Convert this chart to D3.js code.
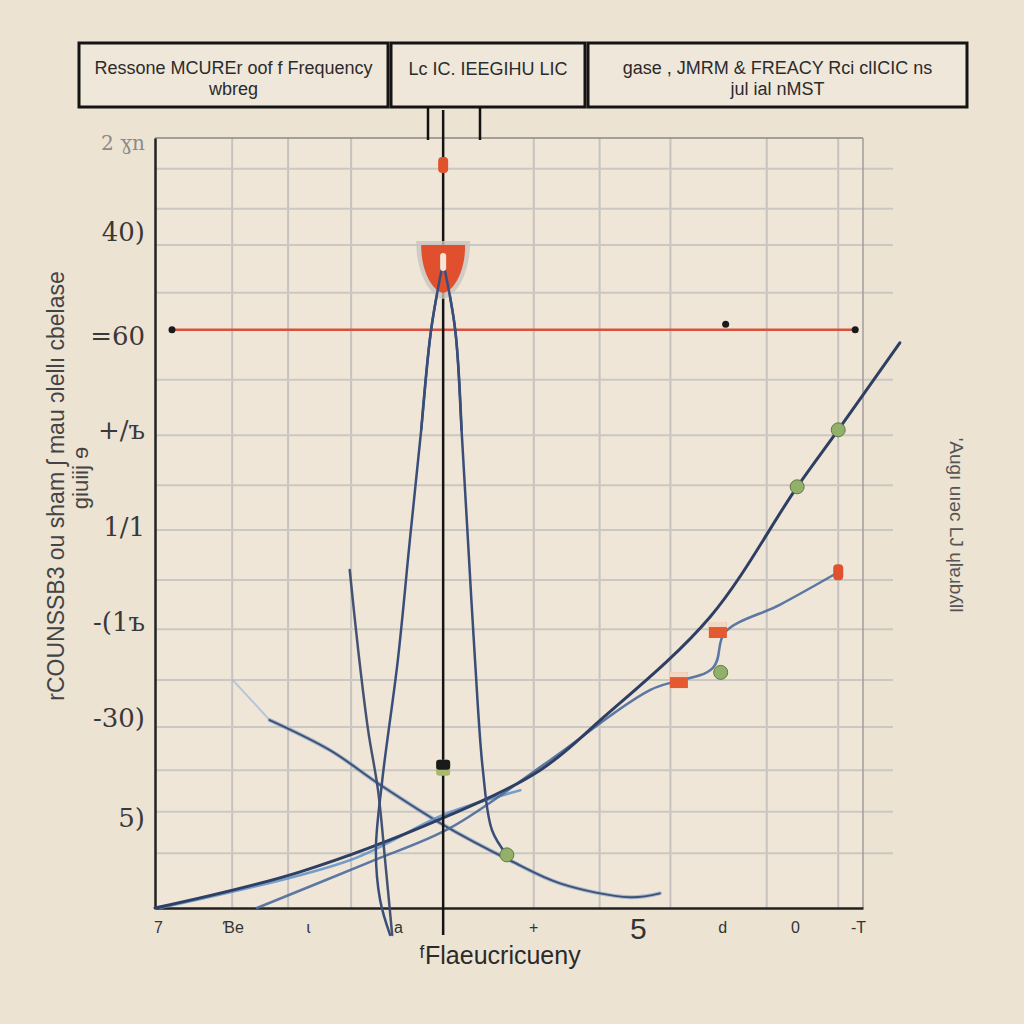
<!doctype html>
<html>
<head>
<meta charset="UTF-8">
<script src="https://cdnjs.cloudflare.com/ajax/libs/d3/7.8.5/d3.min.js"></script>
<style>
  body { margin: 0; background: #ece3d3; }
  svg { display: block; }
</style>
</head>
<body>
<svg id="chart" width="1024" height="1024"></svg>
<script>
// header boxes
var headerBoxes = [
  { x0: 79, x1: 388, lines: ["Ressone MCUREr oof f Frequency", "wbreg"] },
  { x0: 391, x1: 585, lines: ["Lc IC. IEEGIHU LIC"] },
  { x0: 588, x1: 967, lines: ["gase , JMRM & FREACY Rci clICIC ns", "jul ial nMST"] }
];

// axis labels
var yTickValues = [99.4, 87.8, 74.3, 62.1, 49.4, 37.1, 24.7, 11.7];
var yTickLabels = ["2 ɣn", "40)", "=60", "+/ъ", "1/1", "-(1ъ", "-30)", "5)"];
var xTickValues = [0.04, 1.10, 2.16, 3.43, 5.34, 6.82, 8.01, 9.04, 9.93];
var xTickLabels = ["7", "Ɓe", "ɩ", "a", "+", "5", "d", "0", "-T"];

// irregular grid
var xGrid = [1.09, 1.88, 2.77, 5.35, 6.28, 7.28, 8.64, 9.65];
var yGrid = [96.0, 90.8, 86.1, 79.9, 68.6, 61.4, 54.9, 49.1, 42.6, 36.2, 29.6, 23.5, 17.9, 12.5, 7.1];

// series
var peakLeft = [[4.07,83.9],[3.90,75.1],[3.76,62.1],[3.60,47.8],[3.43,32.2],[3.21,16.6],[3.12,7.5],[3.18,1.0],[3.32,-3.5]];
var peakLeft2 = [[2.75,43.9],[2.87,33.5],[3.01,23.1],[3.15,15.3],[3.25,6.2],[3.35,-3.5]];
var peakRight = [[4.07,83.9],[4.24,75.1],[4.33,62.1],[4.42,47.8],[4.52,32.2],[4.63,18.0],[4.76,10.1],[4.97,6.9]];
var rising = [[0,0],[2.05,4.7],[4.07,11.7],[5.44,17.9],[6.29,24.4],[7.84,37.8],[9.07,54.7],[9.65,62.1],[10.52,73.4]];
var risingLight = [[0.07,0],[2.75,6.2],[4.07,12.1],[5.16,15.3]];
var lower = [[1.44,0],[3.04,6.0],[4.17,10.4],[5.58,19.2],[6.99,28.3],[7.88,31.2],[8.05,35.8],[8.83,39.4],[9.65,43.6]];
var fallingFaint = [[1.10,29.6],[1.62,24.4]];
var falling = [[1.62,24.4],[2.47,20.5],[3.18,16.0],[4.07,10.8],[5.01,6.2],[5.72,3.2],[6.71,1.4],[7.13,1.9]];
var redLevel = 75.1, redFrom = 0.24, redTo = 9.89;
var markerLine = 4.07;

var markers = [
  { x: 4.07, y: 96.5, kind: "red" },
  { x: 4.07, y: 18.2, kind: "dark" },
  { x: 4.97, y: 6.9, kind: "green" },
  { x: 9.07, y: 54.7, kind: "green" },
  { x: 9.65, y: 62.1, kind: "green" },
  { x: 7.99, y: 30.6, kind: "green" },
  { x: 7.95, y: 36.1, kind: "orange" },
  { x: 7.40, y: 29.6, kind: "orange" },
  { x: 9.65, y: 43.6, kind: "red" },
  { x: 0.24, y: 75.1, kind: "dot" },
  { x: 9.89, y: 75.1, kind: "dot" },
  { x: 8.06, y: 75.8, kind: "dot" }
];

var svg = d3.select("#chart");
svg.append("rect").attr("width", 1024).attr("height", 1024).attr("fill", "#ece3d3");

var x = d3.scaleLinear().domain([0, 10]).range([155, 863]);
var y = d3.scaleLinear().domain([0, 100]).range([908, 138]);

// plot background
svg.append("rect")
  .attr("x", x(0)).attr("y", y(100))
  .attr("width", x(10) - x(0)).attr("height", y(0) - y(100))
  .attr("fill", "#efe6d8");

// grid
svg.append("g").selectAll("line").data(xGrid).enter().append("line")
  .attr("x1", d => x(d)).attr("x2", d => x(d))
  .attr("y1", y(100)).attr("y2", y(0))
  .attr("stroke", "#c5c2bf").attr("stroke-width", 2);
svg.append("g").selectAll("line").data(yGrid).enter().append("line")
  .attr("x1", x(0)).attr("x2", x(10) + 30)
  .attr("y1", d => y(d)).attr("y2", d => y(d))
  .attr("stroke", "#cbc7c2").attr("stroke-width", 2);

// frame
svg.append("line").attr("x1", x(0)).attr("x2", x(10)).attr("y1", y(100)).attr("y2", y(100))
  .attr("stroke", "#8a8785").attr("stroke-width", 1.5);
svg.append("line").attr("x1", x(10)).attr("x2", x(10)).attr("y1", y(100)).attr("y2", y(0))
  .attr("stroke", "#a09d9a").attr("stroke-width", 1.5);

// axes
var yAxis = d3.axisLeft(y).tickValues(yTickValues).tickFormat((d, i) => yTickLabels[i]).tickSize(0).tickPadding(10);
var gy = svg.append("g").attr("transform", "translate(" + x(0) + ",0)").call(yAxis);
gy.select(".domain").attr("stroke", "#222").attr("stroke-width", 2.5);
gy.selectAll("text")
  .style("font-family", "DejaVu Serif, serif").style("font-size", "26px")
  .attr("fill", "#3a3838");
gy.selectAll("text").filter((d, i) => i === 0).attr("fill", "#8d8a88").style("font-size", "20px");

var xAxis = d3.axisBottom(x).tickValues(xTickValues).tickFormat((d, i) => xTickLabels[i]).tickSize(0).tickPadding(14);
var gx = svg.append("g").attr("transform", "translate(0," + y(0) + ")").call(xAxis);
gx.select(".domain").attr("stroke", "#222").attr("stroke-width", 2.5);
gx.selectAll("text")
  .style("font-family", "Liberation Sans, sans-serif").style("font-size", "16px")
  .attr("fill", "#333");
gx.selectAll("text").filter((d, i) => i === 5).style("font-size", "30px").attr("dy", "0.55em");

// axis titles
svg.append("text")
  .attr("x", 500).attr("y", 964)
  .attr("text-anchor", "middle")
  .style("font-family", "Liberation Sans Narrow, Liberation Sans, sans-serif")
  .style("font-size", "25px").attr("fill", "#2a2a2a")
  .text("ᶠFlaeucricueny");

svg.append("text")
  .attr("transform", "translate(64,486)rotate(-90)")
  .attr("text-anchor", "middle")
  .style("font-family", "Liberation Sans Narrow, Liberation Sans, sans-serif")
  .style("font-size", "23px").attr("fill", "#444")
  .text("rCOUNSSB3 ou sham ʃ mau ɔlellı cbelase");
svg.append("text")
  .attr("transform", "translate(88,478)rotate(-90)")
  .attr("text-anchor", "middle")
  .style("font-family", "Liberation Sans Narrow, Liberation Sans, sans-serif")
  .style("font-size", "22px").attr("fill", "#444")
  .text("giuiij ɘ");
svg.append("text")
  .attr("transform", "translate(950,525)rotate(90)")
  .attr("text-anchor", "middle")
  .style("font-family", "Liberation Sans Narrow, Liberation Sans, sans-serif")
  .style("font-size", "19px").attr("fill", "#555")
  .text("'Augı uıəc LJ ɥlɐɹbʎll");

// header
var hg = svg.append("g");
headerBoxes.forEach(function(b) {
  hg.append("rect").attr("x", b.x0).attr("y", 43).attr("width", b.x1 - b.x0).attr("height", 64)
    .attr("fill", "#efe7da").attr("stroke", "#141414").attr("stroke-width", 3);
  b.lines.forEach(function(t, i) {
    hg.append("text")
      .attr("x", (b.x0 + b.x1) / 2)
      .attr("y", b.lines.length === 1 ? 75 : 74 + i * 21)
      .attr("text-anchor", "middle")
      .style("font-family", "Liberation Sans Narrow, Liberation Sans, sans-serif")
      .style("font-size", "18px").attr("fill", "#2b2b2b")
      .text(t);
  });
});
hg.append("line").attr("x1", 428).attr("x2", 428).attr("y1", 107).attr("y2", 140).attr("stroke", "#111").attr("stroke-width", 2.5);
hg.append("line").attr("x1", 480).attr("x2", 480).attr("y1", 107).attr("y2", 140).attr("stroke", "#111").attr("stroke-width", 2.5);

// red horizontal
svg.append("line")
  .attr("x1", x(redFrom)).attr("x2", x(redTo))
  .attr("y1", y(redLevel)).attr("y2", y(redLevel))
  .attr("stroke", "#d9503c").attr("stroke-width", 2.5);

var line = d3.line().x(d => x(d[0])).y(d => y(d[1])).curve(d3.curveCatmullRom.alpha(0.5));

function drawSeries(data, color, w, op) {
  svg.append("path").datum(data)
    .attr("d", line)
    .attr("fill", "none")
    .attr("stroke", color)
    .attr("stroke-width", w)
    .attr("stroke-opacity", op)
    .attr("stroke-linecap", "round");
}

drawSeries(fallingFaint, "#8fb0d6", 2, 0.6);
drawSeries(falling, "#6a93c6", 4, 0.55);
drawSeries(falling, "#35466b", 2, 0.9);
drawSeries(risingLight, "#5f8fc7", 2.5, 0.85);
drawSeries(lower, "#4a6a9c", 2.5, 0.9);
drawSeries(rising, "#2f3f63", 3, 1);
drawSeries(peakLeft2, "#3b4b6e", 2.5, 0.95);
drawSeries(peakLeft, "#3a4e7a", 2.5, 1);
drawSeries(peakRight, "#3a4e7a", 2.5, 1);

// vertical marker line
svg.append("line")
  .attr("x1", x(markerLine)).attr("x2", x(markerLine))
  .attr("y1", 110).attr("y2", 935)
  .attr("stroke", "#141414").attr("stroke-width", 2.5);

// cup at the peak
var cx = x(markerLine), cy = y(86.1);
svg.append("path")
  .attr("d", "M" + (cx - 27) + "," + (cy - 4) + " L" + (cx + 27) + "," + (cy - 4) +
    " C" + (cx + 27) + "," + (cy + 30) + " " + (cx + 12) + "," + (cy + 52) + " " + cx + "," + (cy + 54) +
    " C" + (cx - 12) + "," + (cy + 52) + " " + (cx - 27) + "," + (cy + 30) + " " + (cx - 27) + "," + (cy - 4) + "Z")
  .attr("fill", "#c9c4c0").attr("opacity", 0.8);
svg.append("path")
  .attr("d", "M" + (cx - 22) + "," + cy + " L" + (cx + 22) + "," + cy +
    " C" + (cx + 22) + "," + (cy + 28) + " " + (cx + 10) + "," + (cy + 46) + " " + cx + "," + (cy + 48) +
    " C" + (cx - 10) + "," + (cy + 46) + " " + (cx - 22) + "," + (cy + 28) + " " + (cx - 22) + "," + cy + "Z")
  .attr("fill", "#e0502f");
drawSeries(peakLeft.slice(0, 3), "#3a4e7a", 2.5, 1);
drawSeries(peakRight.slice(0, 3), "#3a4e7a", 2.5, 1);
svg.append("rect").attr("x", cx - 3).attr("y", cy + 8).attr("width", 6).attr("height", 18).attr("rx", 3)
  .attr("fill", "#f3e6d4");

// markers
var mg = svg.append("g");
markers.forEach(function(m) {
  var px = x(m.x), py = y(m.y);
  if (m.kind === "red") {
    mg.append("rect").attr("x", px - 5).attr("y", py - 8).attr("width", 10).attr("height", 16).attr("rx", 4).attr("fill", "#e0522e");
  } else if (m.kind === "dark") {
    mg.append("rect").attr("x", px - 7).attr("y", py - 8).attr("width", 14).attr("height", 16).attr("rx", 3).attr("fill", "#aab86b");
    mg.append("rect").attr("x", px - 7).attr("y", py - 8).attr("width", 14).attr("height", 10).attr("rx", 3).attr("fill", "#1a1a1a");
  } else if (m.kind === "green") {
    mg.append("circle").attr("cx", px).attr("cy", py).attr("r", 7).attr("fill", "#92b06a").attr("stroke", "#5f7a45").attr("stroke-width", 1);
  } else if (m.kind === "orange") {
    mg.append("rect").attr("x", px - 9).attr("y", py - 8).attr("width", 18).attr("height", 16).attr("fill", "#e4592f");
    mg.append("rect").attr("x", px - 9).attr("y", py - 8).attr("width", 18).attr("height", 5).attr("fill", "#f2d8c4");
  } else {
    mg.append("circle").attr("cx", px).attr("cy", py).attr("r", 3.5).attr("fill", "#1a1a1a");
  }
});
</script>
</body>
</html>
